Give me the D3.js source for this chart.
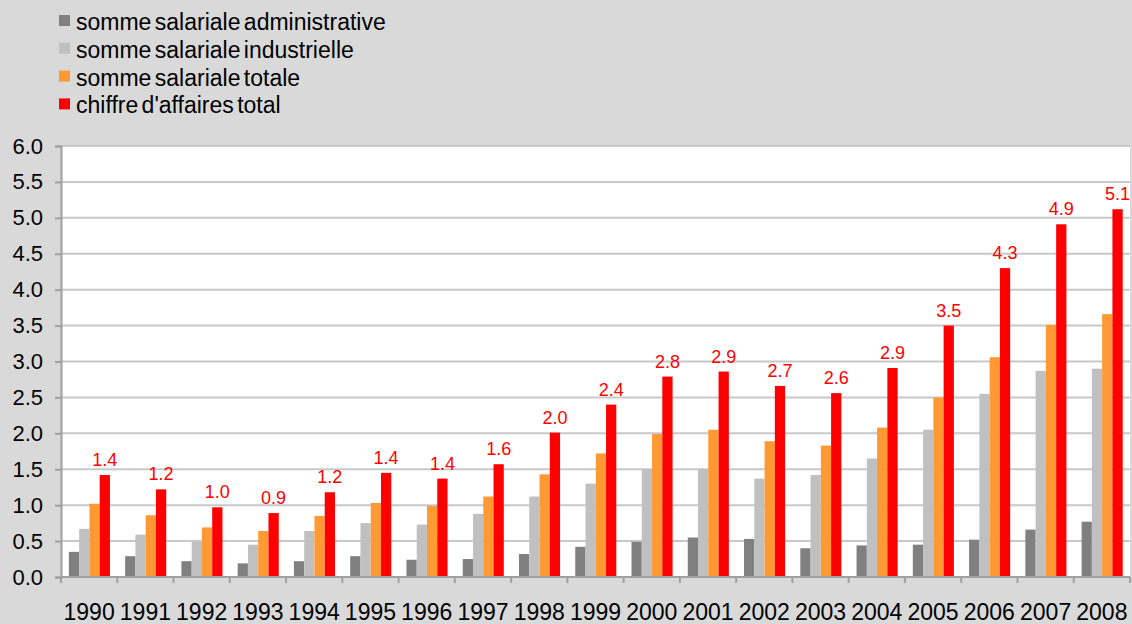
<!DOCTYPE html>
<html>
<head>
<meta charset="utf-8">
<script src="https://cdn.jsdelivr.net/npm/d3@7"></script>
<style>
  html, body { margin: 0; padding: 0; background: #d9d9d9; }
  svg { display: block; font-family: "Liberation Sans", Arial, sans-serif; }
</style>
</head>
<body>
<div id="chart"></div>
<script>
// data
const years = ["1990","1991","1992","1993","1994","1995","1996","1997","1998","1999",
               "2000","2001","2002","2003","2004","2005","2006","2007","2008"];
const seriesNames = ["somme salariale administrative", "somme salariale industrielle",
                     "somme salariale totale", "chiffre d'affaires total"];
const admin  = [0.35,0.29,0.22,0.19,0.22,0.29,0.24,0.25,0.32,0.42,0.49,0.55,0.53,0.40,0.44,0.45,0.52,0.66,0.77];
const indus  = [0.67,0.59,0.49,0.45,0.64,0.75,0.73,0.88,1.12,1.30,1.50,1.50,1.37,1.42,1.65,2.05,2.55,2.87,2.90];
const totale = [1.02,0.86,0.69,0.64,0.85,1.03,0.99,1.12,1.43,1.72,1.99,2.05,1.89,1.83,2.08,2.50,3.06,3.51,3.66];
const ca     = [1.42,1.22,0.97,0.89,1.18,1.45,1.37,1.57,2.01,2.40,2.79,2.86,2.66,2.56,2.91,3.50,4.30,4.91,5.12];
const yTicks = [0,0.5,1,1.5,2,2.5,3,3.5,4,4.5,5,5.5,6];
const colors = ["#808080", "#c0c0c0", "#ff9933", "#ff0000"];

const width = 1132, height = 624;
const plotL = 61, plotR = 1130, plotT = 146, plotB = 577;

const svg = d3.select("#chart").append("svg")
    .attr("width", width)
    .attr("height", height);

svg.append("rect").attr("width", width).attr("height", height).attr("fill", "#d9d9d9");

// legend
const legend = svg.append("g");
seriesNames.forEach((name, i) => {
    const ly = 21 + i * 27.8;
    legend.append("rect")
        .attr("x", 59).attr("y", ly - 6)
        .attr("width", 11).attr("height", 11)
        .attr("fill", colors[i]);
    legend.append("text")
        .attr("x", 76).attr("y", ly + 9)
        .attr("font-size", 23)
        .attr("word-spacing", -3)
        .attr("fill", "#000")
        .text(name);
});

const x0 = d3.scaleBand().domain(years).range([plotL, plotR]).padding(0);
const x1 = d3.scaleBand().domain(d3.range(4))
    .range([x0.bandwidth() * 0.14, x0.bandwidth() * 0.87]).padding(0);
const y = d3.scaleLinear().domain([0, 6]).range([plotB, plotT]);

// plot area
svg.append("rect")
    .attr("x", plotL).attr("y", plotT)
    .attr("width", plotR - plotL).attr("height", plotB - plotT)
    .attr("fill", "#fff");

// gridlines
svg.append("g")
    .selectAll("line")
    .data(yTicks.filter(d => d > 0))
    .join("line")
    .attr("x1", plotL).attr("x2", plotR)
    .attr("y1", d => y(d)).attr("y2", d => y(d))
    .attr("stroke", "#c8c8c8").attr("stroke-width", 2);

// bars
const table = years.map((yr, i) => ({ year: yr, vals: [admin[i], indus[i], totale[i], ca[i]] }));

const groups = svg.append("g")
    .selectAll("g")
    .data(table)
    .join("g")
    .attr("transform", d => `translate(${x0(d.year)},0)`);

groups.selectAll("rect")
    .data(d => d.vals.map((v, k) => ({ k, v })))
    .join("rect")
    .attr("x", d => x1(d.k))
    .attr("width", x1.bandwidth())
    .attr("y", d => y(d.v))
    .attr("height", d => y(0) - y(d.v))
    .attr("fill", d => colors[d.k]);

// value labels on the red series
groups.append("text")
    .attr("x", x1(3) + x1.bandwidth() / 2)
    .attr("y", d => y(d.vals[3]) - 9)
    .attr("text-anchor", "middle")
    .attr("font-size", 18)
    .attr("fill", "#ff0000")
    .text(d => d3.format(".1f")(d.vals[3]));

// y axis
const yAxis = svg.append("g")
    .attr("transform", `translate(${plotL},0)`)
    .call(d3.axisLeft(y).tickValues(yTicks).tickFormat(d3.format(".1f")).tickSize(6).tickPadding(12));
yAxis.select(".domain").attr("stroke", "#a0a0a0").attr("stroke-width", 2);
yAxis.selectAll(".tick line").attr("stroke", "#a0a0a0").attr("stroke-width", 2);
yAxis.selectAll(".tick text").attr("font-size", 22).attr("fill", "#000")
    .attr("font-family", "Liberation Sans, Arial, sans-serif");

// x axis
const xAxis = svg.append("g").attr("transform", `translate(0,${plotB})`);
xAxis.append("line")
    .attr("x1", plotL).attr("x2", plotR)
    .attr("stroke", "#a0a0a0").attr("stroke-width", 2);
xAxis.selectAll("line.tk")
    .data(years.concat(["end"]))
    .join("line")
    .attr("class", "tk")
    .attr("x1", (d, i) => plotL + i * x0.step())
    .attr("x2", (d, i) => plotL + i * x0.step())
    .attr("y1", 0).attr("y2", 6)
    .attr("stroke", "#a0a0a0").attr("stroke-width", 2);
xAxis.selectAll("text")
    .data(years)
    .join("text")
    .attr("x", d => x0(d) + x0.bandwidth() / 2)
    .attr("y", 43)
    .attr("text-anchor", "middle")
    .attr("font-size", 23)
    .attr("fill", "#000")
    .text(d => d);
</script>
</body>
</html>
